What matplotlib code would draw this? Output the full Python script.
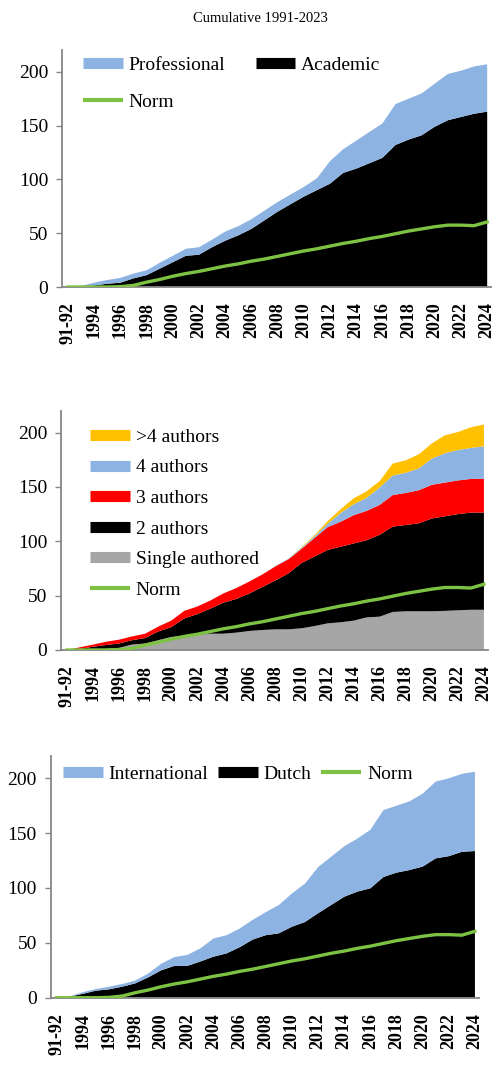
import matplotlib
matplotlib.use("Agg")
import matplotlib.pyplot as plt
from matplotlib.lines import Line2D
import numpy as np

# ---------------- data ----------------
categories = ["91-92"] + [str(y) for y in range(1993, 2025)]

norm = [0, 0, 0, 0, 0.3, 1.5, 4.5, 7, 10, 12.5, 14.5, 17, 19.5, 21.5, 24, 26, 28.5,
        31, 33.5, 35.5, 38, 40.5, 42.5, 45, 47, 49.5, 52, 54, 56, 57.5, 57.5, 57, 60.5]

# Panel 1
academic = [0, 0.5, 1.5, 3, 4, 8, 11, 17, 23, 29, 30, 37, 43, 48, 54, 62, 70, 77, 84,
            90, 96, 106, 110, 115, 120, 132, 137, 141, 149, 155, 158, 161, 163]
professional = [0, 0.5, 2.5, 3.5, 4.5, 4.5, 4.5, 5.5, 6, 6.5, 7, 7, 8.5, 8.5, 9, 9, 9,
                9, 9, 11, 21, 22, 26, 29, 32, 38, 38, 39, 40, 43, 43, 44, 44]

# Panel 2
single_authored = [0, 0, 1, 1, 2, 5, 6, 9, 12, 13, 14, 15, 15, 16, 17.5, 18.4, 19, 19,
                   20, 22, 24.5, 25.5, 27, 30, 30.7, 35, 35.6, 35.6, 35.6, 36, 36.5, 37, 37]
two_authors = [0, 1, 2, 3.6, 4, 4, 5, 8, 9, 16, 19, 23, 28.5, 31, 34.5, 39.6, 45, 51.5,
               60, 64, 67.5, 69.5, 71, 71, 75.3, 78.5, 79.4, 80.9, 85.4, 87, 88.5, 89.4, 89.4]
three_authors = [0, 1.5, 2, 3, 3.5, 3.5, 4, 4.5, 6, 7, 7, 7.5, 8.5, 10, 11, 11.5, 13, 13,
                 13, 17, 21, 23, 26, 27, 27.5, 29, 29.5, 30.5, 31, 31, 31, 31, 31]
four_authors = [0, 0, 0, 0, 0, 0, 0, 0, 0, 0, 0, 0, 0, 0, 0, 0, 0.3, 0.5, 1, 1.5, 3, 8,
                10, 12, 16, 18, 18.5, 20, 24, 27, 28, 28.5, 30]
more_authors = [0, 0, 0, 0, 0, 0, 0, 0, 0, 0, 0, 0, 0, 0, 0, 0, 0, 0, 0.5, 1, 2.5, 3.5,
                5.5, 6, 6, 11, 11.5, 13, 14, 16.5, 16.5, 19, 20]

# Panel 3
dutch = [0, 1, 3.5, 6.4, 7.6, 10, 13, 18.5, 25, 29, 29, 33, 37.4, 40.4, 46, 53, 57, 58.7,
         64.7, 69, 77, 84.5, 92, 96.7, 99.7, 110, 114, 116.4, 119.5, 127, 129, 133, 133.7]
international = [0, 0.3, 1.5, 1.5, 2.4, 2.5, 2.5, 3.5, 6, 8, 10, 12, 16.6, 16.6, 17, 18,
                 21, 25.8, 30.3, 35, 42, 44, 46, 48.3, 53.3, 61, 61, 62.6, 66.5, 70, 71, 71, 72.3]

yticks = [0, 50, 100, 150, 200]

# ---------------- style ----------------
LBLUE = "#8DB3E2"
GREEN = "#7DC242"
RED = "#FF0000"
ORANGE = "#FFC000"
GRAY = "#A6A6A6"
AXC = "#868686"
SERIF = ["Liberation Serif", "DejaVu Serif"]

W, H = 496, 1065
fig = plt.figure(figsize=(W / 100, H / 100), dpi=100)

x = np.arange(len(categories))
XL = (-0.45, 32.3)


def make_ax(left_px, bottom_px, step_px, unit_px):
    width = (XL[1] - XL[0]) * step_px
    height = 220 * unit_px
    ax = fig.add_axes([left_px / W, (H - bottom_px) / H, width / W, height / H])
    ax.set_xlim(*XL)
    ax.set_ylim(0, 220)
    for s in ("top", "right"):
        ax.spines[s].set_visible(False)
    for s in ("left", "bottom"):
        ax.spines[s].set_color(AXC)
        ax.spines[s].set_linewidth(1.3)
    ax.set_yticks(yticks)
    ax.set_yticklabels([str(v) for v in yticks], family=SERIF, fontsize=14)
    ax.tick_params(axis="y", length=4, width=1, color=AXC, pad=6)
    ax.set_xticks(x[::2])
    ax.set_xticklabels(categories[::2], rotation=90, family=SERIF, fontsize=13,
                       fontweight="bold", va="top", ha="center")
    ax.tick_params(axis="x", length=0, pad=11)
    return ax


def lh(color, lw=8):
    return Line2D([], [], color=color, lw=lw, solid_capstyle="butt")


# Title
fig.text(260 / W, 1 - 18 / H, "Cumulative 1991-2023", ha="center", va="center",
         family=SERIF, fontsize=10.5)

# ---- Panel 1 ----
ax1 = make_ax(62.1, 287, 13.1, 1.076)
ax1.stackplot(x, academic, professional, colors=["black", LBLUE], lw=0)
ax1.plot(x, norm, color=GREEN, lw=2.4, zorder=5)
h1 = [lh(LBLUE), lh(GREEN, 3), lh("black")]
ax1.legend(h1, ["Professional", "Norm", "Academic"], ncol=2, loc="upper left",
           bbox_to_anchor=(0.049, 0.975), frameon=False, borderpad=0, borderaxespad=0,
           prop={"family": SERIF, "size": 14}, handlelength=2.05, handletextpad=0.3,
           labelspacing=1.0, columnspacing=1.55)

# ---- Panel 2 ----
ax2 = make_ax(61.1, 650, 13.03, 1.087)
ax2.stackplot(x, single_authored, two_authors, three_authors, four_authors, more_authors,
              colors=[GRAY, "black", RED, LBLUE, ORANGE], lw=0)
ax2.plot(x, norm, color=GREEN, lw=2.4, zorder=5)
h2 = [lh(ORANGE), lh(LBLUE), lh(RED), lh("black"), lh(GRAY), lh(GREEN, 3)]
ax2.legend(h2, [">4 authors", "4 authors", "3 authors", "2 authors", "Single authored", "Norm"],
           loc="upper left", bbox_to_anchor=(0.068, 0.928), frameon=False, borderpad=0,
           borderaxespad=0, prop={"family": SERIF, "size": 14}, handlelength=2.05,
           handletextpad=0.3, labelspacing=0.67)

# ---- Panel 3 ----
ax3 = make_ax(50.8, 997.7, 13.07, 1.097)
ax3.stackplot(x, dutch, international, colors=["black", LBLUE], lw=0)
ax3.plot(x, norm, color=GREEN, lw=2.4, zorder=5)
h3 = [lh(LBLUE), lh("black"), lh(GREEN, 3)]
ax3.legend(h3, ["International", "Dutch", "Norm"], ncol=3, loc="upper left",
           bbox_to_anchor=(0.0285, 0.963), frameon=False, borderpad=0, borderaxespad=0,
           prop={"family": SERIF, "size": 14}, handlelength=2.05, handletextpad=0.3,
           columnspacing=0.5)

fig.savefig("out.png", dpi=100)
